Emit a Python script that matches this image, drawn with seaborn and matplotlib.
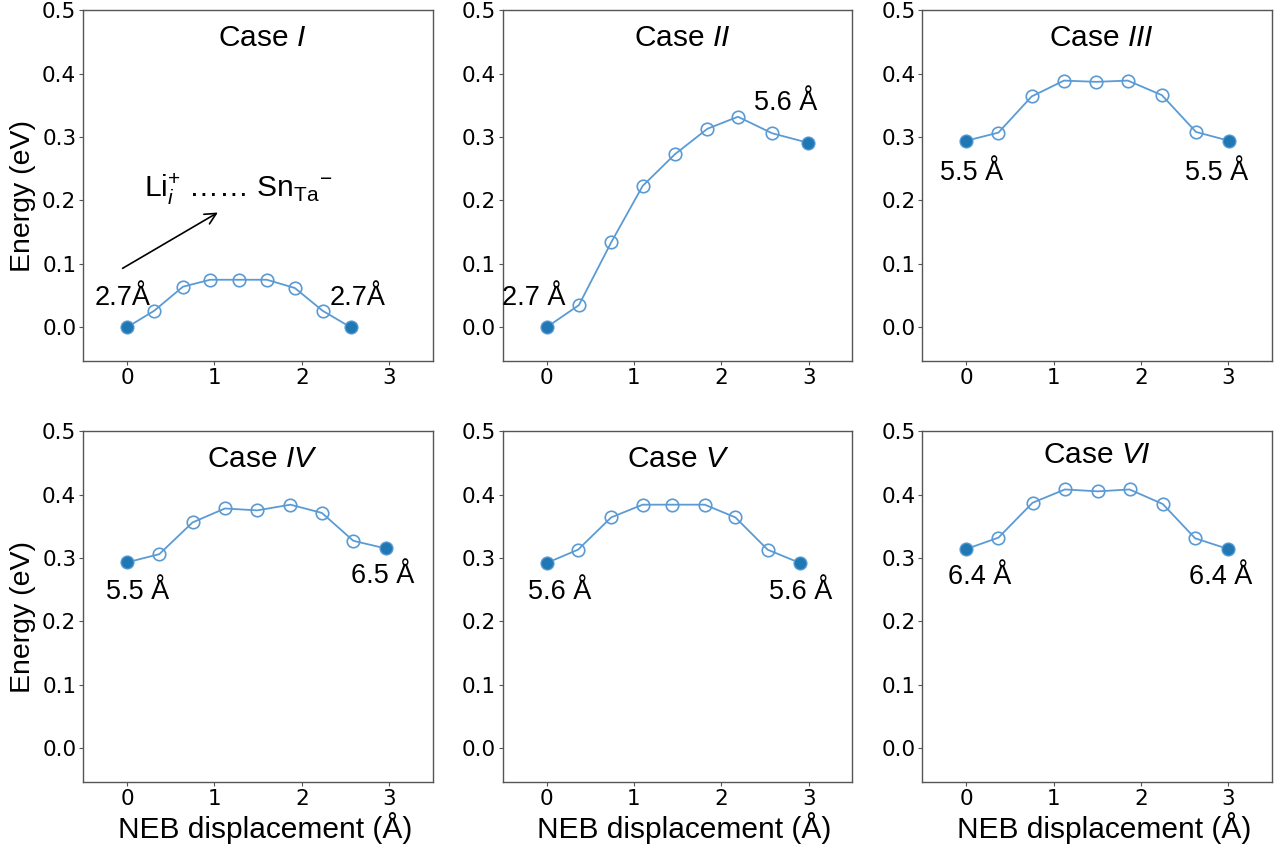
import numpy as np
import pandas as pd
import matplotlib
matplotlib.use("Agg")
import matplotlib.pyplot as plt
import seaborn as sns

# ---- data ----
case_names = ["I", "II", "III", "IV", "V", "VI"]
x_I = [0, 0.31, 0.64, 0.95, 1.28, 1.60, 1.92, 2.24, 2.56]
e_I = [0.0, 0.026, 0.064, 0.075, 0.075, 0.075, 0.062, 0.026, 0.0]
x_II = [0, 0.37, 0.74, 1.10, 1.47, 1.84, 2.19, 2.58, 2.99]
e_II = [0.0, 0.035, 0.134, 0.223, 0.273, 0.313, 0.332, 0.306, 0.291]
x_III = [0, 0.37, 0.75, 1.12, 1.49, 1.85, 2.24, 2.63, 3.01]
e_III = [0.294, 0.307, 0.364, 0.389, 0.387, 0.389, 0.366, 0.308, 0.294]
x_IV = [0, 0.37, 0.75, 1.12, 1.49, 1.87, 2.23, 2.59, 2.96]
e_IV = [0.293, 0.306, 0.356, 0.378, 0.375, 0.384, 0.371, 0.327, 0.315]
x_V = [0, 0.36, 0.74, 1.10, 1.44, 1.81, 2.16, 2.53, 2.90]
e_V = [0.292, 0.313, 0.364, 0.384, 0.384, 0.384, 0.364, 0.313, 0.292]
x_VI = [0, 0.37, 0.76, 1.13, 1.51, 1.87, 2.25, 2.62, 3.00]
e_VI = [0.314, 0.332, 0.387, 0.408, 0.405, 0.408, 0.385, 0.331, 0.314]

left_labels = ["2.7Å", "2.7 Å", "5.5 Å", "5.5 Å", "5.6 Å", "6.4 Å"]
right_labels = ["2.7Å", "5.6 Å", "5.5 Å", "6.5 Å", "5.6 Å", "6.4 Å"]

xs = [x_I, x_II, x_III, x_IV, x_V, x_VI]
es = [e_I, e_II, e_III, e_IV, e_V, e_VI]

# label positions (data coords)
left_pos = [(-0.05, 0.047), (-0.15, 0.047), (0.06, 0.244), (0.12, 0.247), (0.15, 0.247), (0.15, 0.27)]
right_pos = [(2.64, 0.047), (2.74, 0.354), (2.87, 0.244), (2.93, 0.272), (2.91, 0.247), (2.91, 0.27)]
title_pos = [(1.55, 0.456), (1.55, 0.456), (1.55, 0.456),
             (1.55, 0.456), (1.5, 0.456), (1.5, 0.462)]

sns.set_style("ticks")
plt.rcParams["font.family"] = ["Liberation Sans", "DejaVu Sans"]
plt.rcParams["mathtext.fontset"] = "custom"
plt.rcParams["mathtext.rm"] = "Liberation Sans"
plt.rcParams["mathtext.it"] = "Liberation Sans:italic"
plt.rcParams["mathtext.bf"] = "Liberation Sans:bold"
plt.rcParams["text.color"] = "black"
plt.rcParams["axes.labelcolor"] = "black"
plt.rcParams["xtick.color"] = "black"
plt.rcParams["ytick.color"] = "black"

line_c = "#5b9bd5"
end_c = "#1f77b4"
spine_c = "#555555"

fig, axes = plt.subplots(2, 3, figsize=(12.81, 8.48), dpi=100)
fig.subplots_adjust(left=0.065, right=0.993, top=0.988, bottom=0.078,
                    wspace=0.2, hspace=0.2)

for i, ax in enumerate(axes.flat):
    df = pd.DataFrame({"x": xs[i], "E": es[i]})
    sns.lineplot(data=df, x="x", y="E", ax=ax, color=line_c, lw=1.3,
                 marker="o", markersize=9, markerfacecolor="none",
                 markeredgecolor=line_c, markeredgewidth=1.2)
    ends = df.iloc[[0, -1]]
    sns.scatterplot(data=ends, x="x", y="E", ax=ax, color=end_c, s=70,
                    edgecolor=end_c, linewidth=0, zorder=5)
    ax.set_xlim(-0.5, 3.5)
    ax.set_ylim(-0.053, 0.5)
    ax.set_xticks([0, 1, 2, 3])
    ax.set_yticks([0.0, 0.1, 0.2, 0.3, 0.4, 0.5])
    ax.set_yticklabels(["0.0", "0.1", "0.2", "0.3", "0.4", "0.5"])
    for lab in ax.get_xticklabels() + ax.get_yticklabels():
        lab.set_fontfamily("DejaVu Sans")
        lab.set_fontsize(15.5)
        lab.set_color("black")
    ax.tick_params(direction="out", length=3, width=0.8, color=spine_c, pad=2)
    for s in ax.spines.values():
        s.set_color(spine_c)
        s.set_linewidth(1.0)
    ax.set_xlabel("NEB displacement (Å)" if i >= 3 else "", fontsize=21.5)
    ax.set_ylabel("Energy (eV)" if i % 3 == 0 else "", fontsize=20.5)
    ax.text(*title_pos[i], "Case $\\mathit{%s}$" % case_names[i],
            ha="center", va="center", fontsize=21.5)
    ax.text(*left_pos[i], left_labels[i], ha="center", va="center", fontsize=19.5)
    ax.text(*right_pos[i], right_labels[i], ha="center", va="center", fontsize=19.5)
    if i >= 3:
        ax.xaxis.set_label_coords(0.52, -0.085)

ax0 = axes[0, 0]
ax0.text(1.27, 0.218, "Li$_{\\mathit{i}}^{+}$ …… Sn$_{\\mathrm{Ta}}{}^{-}$",
         ha="center", va="center", fontsize=21.5)
ax0.annotate("", xy=(1.04, 0.181), xytext=(-0.05, 0.093),
             arrowprops=dict(arrowstyle="->", color="black", lw=1.2,
                             mutation_scale=20, shrinkA=0, shrinkB=0))

axes[0, 0].yaxis.set_label_coords(-0.135, 0.47)
axes[1, 0].yaxis.set_label_coords(-0.135, 0.47)

fig.savefig("out.png", dpi=100)
